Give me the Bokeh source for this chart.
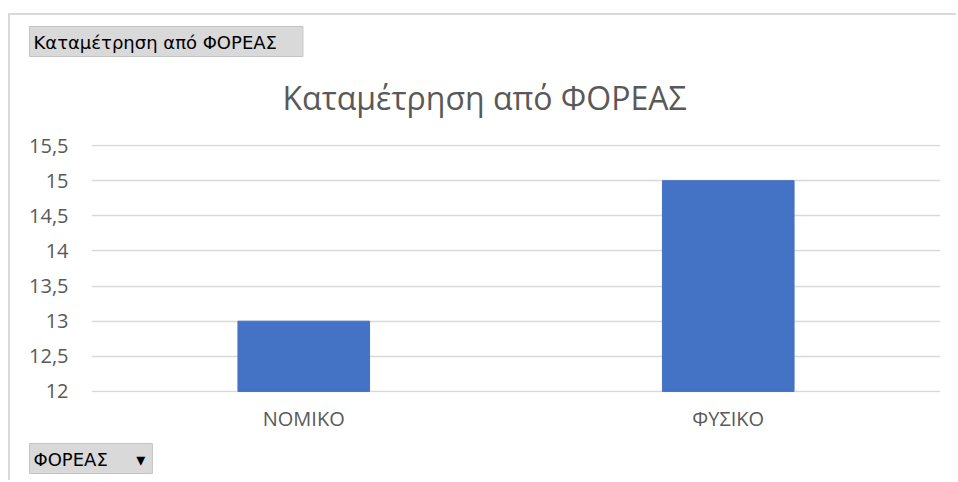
from bokeh.plotting import figure
from bokeh.models import (ColumnDataSource, FactorRange, Range1d, FixedTicker,
                          Title)
from bokeh.layouts import column
from bokeh.embed import file_html
from bokeh.resources import INLINE

# ---- data ----
categories = ["ΝΟΜΙΚΟ", "ΦΥΣΙΚΟ"]
counts = [13, 15]
y_ticks = [12, 12.5, 13, 13.5, 14, 14.5, 15, 15.5]
y_tick_labels = ["12", "12,5", "13", "13,5", "14", "14,5", "15", "15,5"]
title_text = "Καταμέτρηση από ΦΟΡΕΑΣ"
field_button_text = "Καταμέτρηση από ΦΟΡΕΑΣ"
axis_button_text = "ΦΟΡΕΑΣ" + "\u00a0" * 5 + "▾"

FONT = "Open Sans"
GREY = "#595959"
BTN_FONT = "DejaVu Sans"

source = ColumnDataSource(dict(cat=categories, val=counts))

p = figure(width=946, height=465, output_backend="svg", toolbar_location=None,
           x_range=FactorRange(*categories, range_padding=0),
           y_range=Range1d(11.985, 15.515),
           min_border_left=81, min_border_right=16,
           min_border_top=129, min_border_bottom=88,
           title_location=None, tools="")
p.outline_line_color = None

p.vbar(x="cat", top="val", bottom=12, width=0.31, source=source,
       fill_color="#4472C4", line_color="#4472C4")

p.yaxis.ticker = FixedTicker(ticks=y_ticks)
p.yaxis.major_label_overrides = {t: l for t, l in zip(y_ticks, y_tick_labels)}
for ax in (p.xaxis[0], p.yaxis[0]):
    ax.axis_line_color = None
    ax.major_tick_line_color = None
    ax.minor_tick_line_color = None
    ax.major_label_text_font = FONT
    ax.major_label_text_font_size = "20px"
    ax.major_label_text_color = GREY
p.yaxis.major_label_standoff = 17
p.xaxis.major_label_standoff = 6

p.xgrid.grid_line_color = None
p.ygrid.grid_line_color = "#d9d9d9"
p.ygrid.grid_line_width = 1.5


def spacer(standoff):
    return Title(text="\u00a0", text_font_size="1px", standoff=standoff)


main_title = Title(text=title_text, align="left", offset=191,
                   text_font=FONT, text_font_size="32px",
                   text_font_style="normal", text_color=GREY, standoff=20)
field_button = Title(text=field_button_text, align="left", offset=-62,
                     text_font=BTN_FONT, text_font_size="18px",
                     text_font_style="normal", text_color="black",
                     background_fill_color="#d9d9d9",
                     border_line_color="#c4c4c4",
                     padding=dict(left=4, right=26, top=5, bottom=4),
                     standoff=14)
axis_button = Title(text=axis_button_text, align="left", offset=-62,
                    text_font=BTN_FONT, text_font_size="18px",
                    text_font_style="normal", text_color="black",
                    background_fill_color="#d9d9d9",
                    border_line_color="#c4c4c4",
                    padding=dict(left=4, right=7, top=5, bottom=4),
                    standoff=4)

# above: stacked outward from the plot area
p.add_layout(spacer(13), "above")
p.add_layout(main_title, "above")
p.add_layout(field_button, "above")
# below: after the x axis
p.add_layout(spacer(2), "below")
p.add_layout(axis_button, "below")

layout = column(p, styles={"margin-left": "8px", "margin-top": "13px",
                           "border-top": "2px solid #d9d9d9",
                           "border-left": "2px solid #d9d9d9"})

open("out.html", "w").write(file_html(layout, INLINE))
